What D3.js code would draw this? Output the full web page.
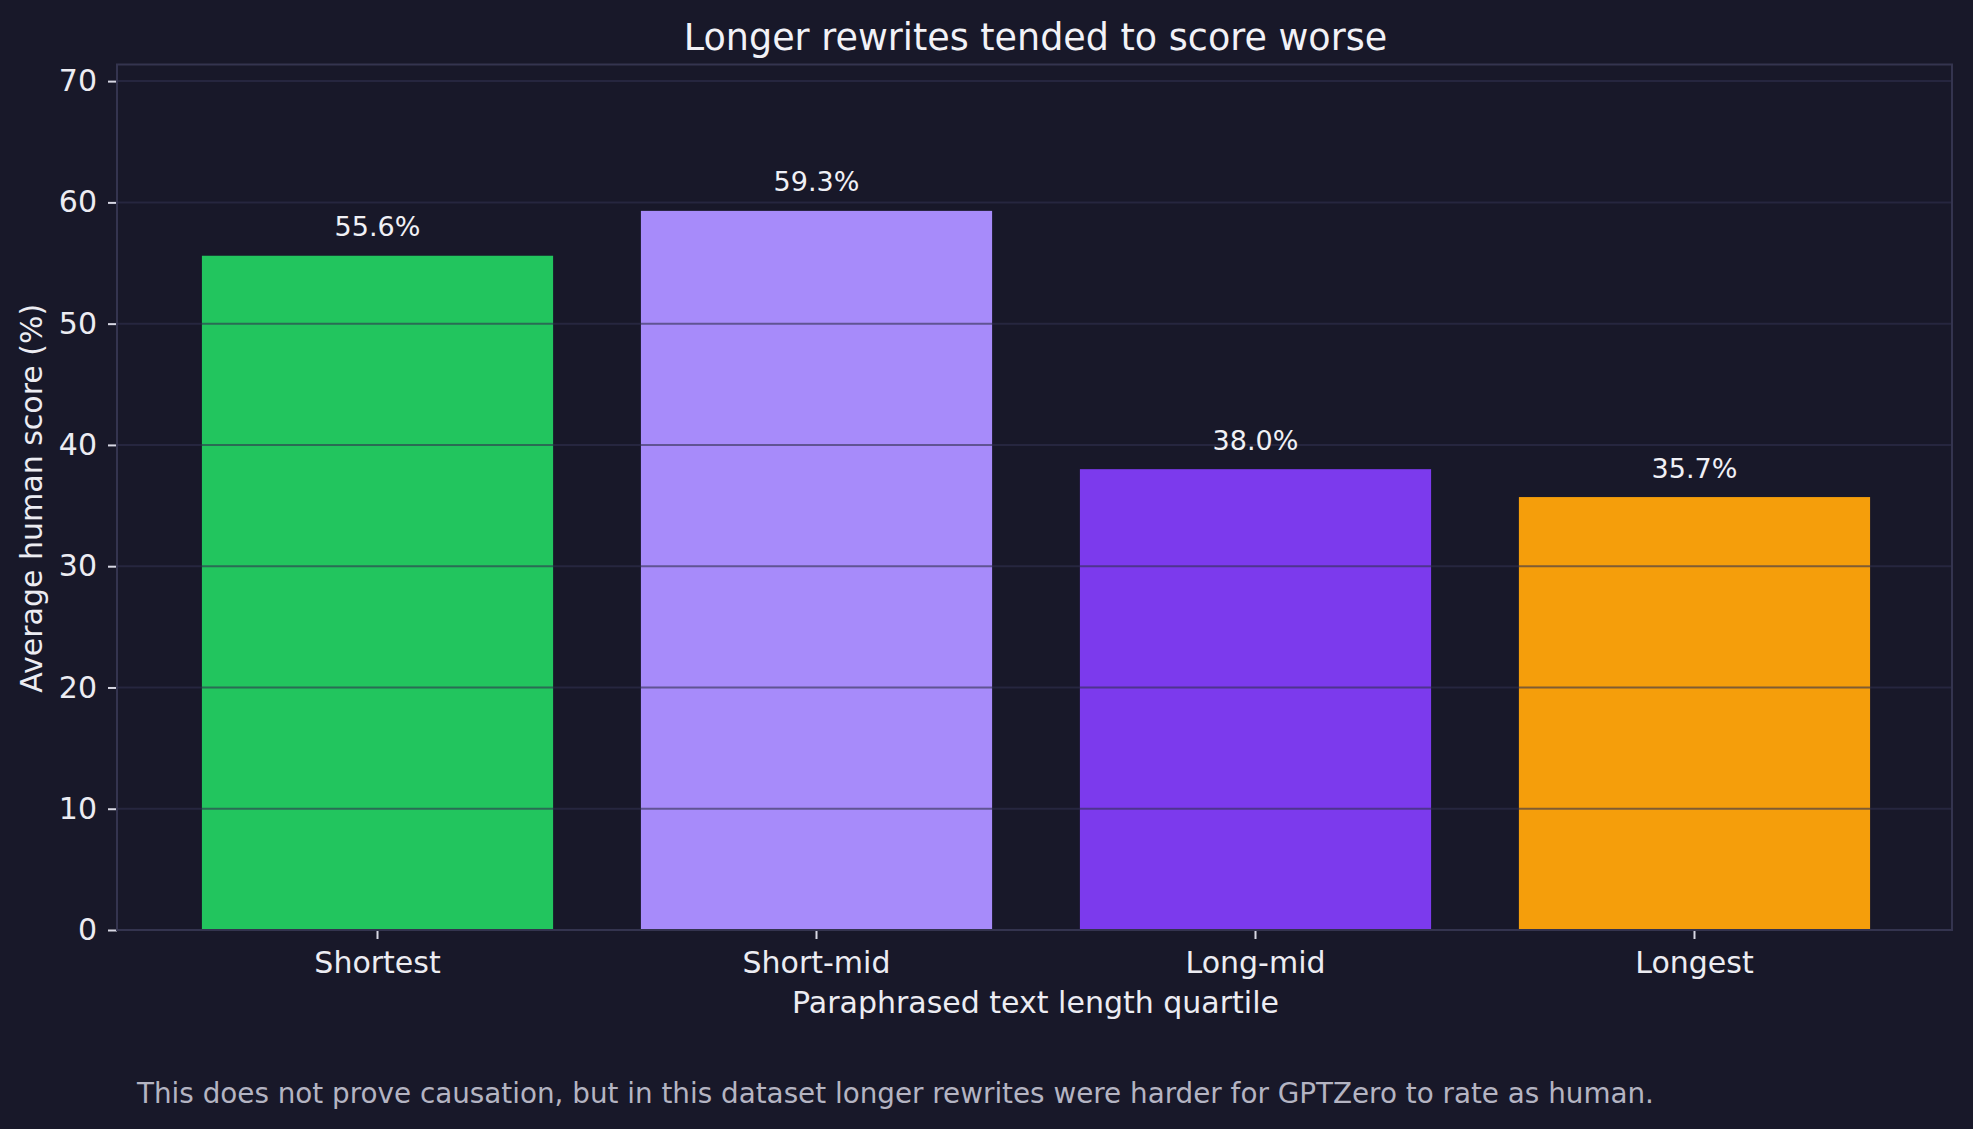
<!DOCTYPE html>
<html>
<head>
<meta charset="utf-8">
<script src="https://cdn.jsdelivr.net/npm/d3@7"></script>
<style>
  html, body { margin: 0; padding: 0; background: #181829; }
  svg { display: block; }
  text { font-family: "DejaVu Sans", sans-serif; }
</style>
</head>
<body>
<div id="chart"></div>
<script>
// data
const categories = ["Shortest", "Short-mid", "Long-mid", "Longest"];
const scores = [55.6, 59.3, 38.0, 35.7];
const barColors = ["#22c55e", "#a78bfa", "#7c3aed", "#f59e0b"];
const yTicks = [0, 10, 20, 30, 40, 50, 60, 70];

const W = 1973, H = 1129;
const MG = {t: 64.5, r: 21, b: 199, l: 117};
const iW = W - MG.l - MG.r, iH = H - MG.t - MG.b;

const svg = d3.select("#chart").append("svg")
  .attr("width", W).attr("height", H).attr("viewBox", `0 0 ${W} ${H}`);
svg.append("rect").attr("width", W).attr("height", H).attr("fill", "#181829");

const g = svg.append("g").attr("transform", `translate(${MG.l},${MG.t})`);

const x = d3.scaleBand().domain(categories).range([1.5, iW + 1.5])
  .paddingInner(0.2).paddingOuter(0.19);
const y = d3.scaleLinear().domain([0, 71.37]).range([iH, 0]);

// bars
g.selectAll(".bar").data(scores).join("rect")
  .attr("class", "bar")
  .attr("x", (d, i) => x(categories[i]))
  .attr("width", x.bandwidth())
  .attr("y", d => y(d))
  .attr("height", d => iH - y(d))
  .attr("fill", (d, i) => barColors[i]);

// grid sits above the bars
g.append("g").selectAll("line").data(yTicks).join("line")
  .attr("x1", 0).attr("x2", iW)
  .attr("y1", d => y(d)).attr("y2", d => y(d))
  .attr("stroke", "#30304f").attr("stroke-opacity", 0.6).attr("stroke-width", 2);

// value labels
g.selectAll(".vlab").data(scores).join("text")
  .attr("class", "vlab")
  .attr("x", (d, i) => x(categories[i]) + x.bandwidth() / 2)
  .attr("y", d => y(d) - 19.5)
  .attr("text-anchor", "middle")
  .attr("fill", "#f0f0f5").attr("font-size", 27)
  .text(d => d.toFixed(1) + "%");

// axes
const yAx = g.append("g")
  .call(d3.axisLeft(y).tickValues(yTicks).tickSize(9).tickPadding(11));
const xAx = g.append("g").attr("transform", `translate(0,${iH})`)
  .call(d3.axisBottom(x).tickSize(9).tickPadding(12.5));
[yAx, xAx].forEach(a => {
  a.select(".domain").remove();
  a.selectAll(".tick line").attr("stroke", "#d8d8e4").attr("stroke-width", 2);
  a.selectAll(".tick text").attr("fill", "#ececf2").attr("font-size", 30)
    .attr("font-family", "'DejaVu Sans', sans-serif");
});

// spines
g.append("rect").attr("x", 0).attr("y", 0).attr("width", iW).attr("height", iH)
  .attr("fill", "none").attr("stroke", "#34344f").attr("stroke-width", 2);

// titles
svg.append("text").attr("x", MG.l + iW / 2 + 1).attr("y", 50)
  .attr("text-anchor", "middle").attr("fill", "#f2f2f7").attr("font-size", 36.5)
  .text("Longer rewrites tended to score worse");

svg.append("text").attr("x", MG.l + iW / 2 + 1).attr("y", 1013)
  .attr("text-anchor", "middle").attr("fill", "#ececf2").attr("font-size", 30)
  .text("Paraphrased text length quartile");

svg.append("text").attr("transform", `translate(42,${MG.t + iH / 2 + 1}) rotate(-90)`)
  .attr("text-anchor", "middle").attr("fill", "#ececf2").attr("font-size", 30)
  .text("Average human score (%)");

svg.append("text").attr("x", 137).attr("y", 1103)
  .attr("fill", "#b4b4c2").attr("font-size", 27.8)
  .text("This does not prove causation, but in this dataset longer rewrites were harder for GPTZero to rate as human.");
</script>
</body>
</html>
